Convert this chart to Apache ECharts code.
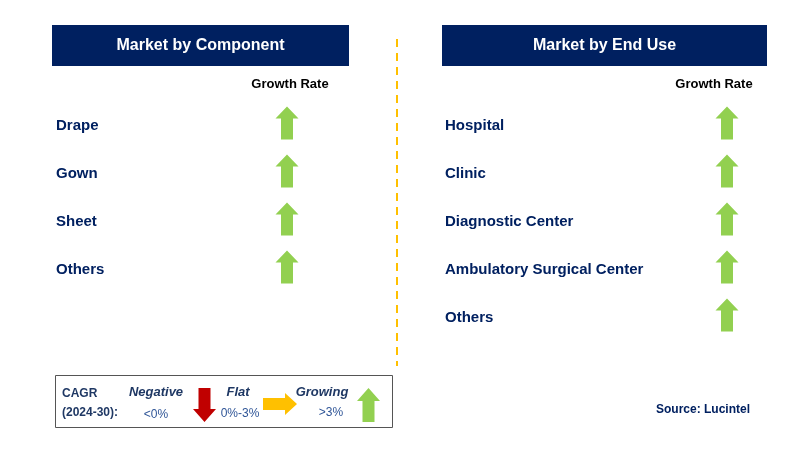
<!DOCTYPE html>
<html><head><meta charset="utf-8">
<script src="https://cdn.jsdelivr.net/npm/echarts@6/dist/echarts.min.js"></script>
<style>html,body{margin:0;padding:0;background:#fff}#c{width:789px;height:451px}</style>
</head><body><div id="c"></div>
<script>
const panelTitles = ['Market by Component', 'Market by End Use'];
const columnLabel = ['Growth Rate'];
const componentCats = ['Drape', 'Gown', 'Sheet', 'Others'];
const componentGrowth = ['Growing', 'Growing', 'Growing', 'Growing'];
const endUseCats = ['Hospital', 'Clinic', 'Diagnostic Center', 'Ambulatory Surgical Center', 'Others'];
const endUseGrowth = ['Growing', 'Growing', 'Growing', 'Growing', 'Growing'];
const legendTitle = ['CAGR', '(2024-30):'];
const legendNames = ['Negative', 'Flat', 'Growing'];
const legendRanges = ['<0%', '0%-3%', '>3%'];
const sourceText = 'Source: Lucintel';

const NAVY = '#002060';
const GREEN = '#92D050', RED = '#C00000', YELLOW = '#FFC000';
const UP = 'path://M11.5,0 L23,12 L17.5,12 L17.5,33 L5.5,33 L5.5,12 L0,12 Z';
const DOWN = 'path://M5.5,0 L17.5,0 L17.5,21 L23,21 L11.5,34 L0,21 L5.5,21 Z';
const RIGHT = 'path://M0,5 L22,5 L22,0 L34,11 L22,22 L22,17 L0,17 Z';
const symbolFor = {Growing: {symbol: UP, color: GREEN}, Negative: {symbol: DOWN, color: RED}, Flat: {symbol: RIGHT, color: YELLOW}};

function points(cats, growth) {
  return cats.map((c, i) => ({
    value: [0, i],
    symbol: symbolFor[growth[i]].symbol,
    itemStyle: {color: symbolFor[growth[i]].color, opacity: 1}
  }));
}

const chart = echarts.init(document.getElementById('c'));
const labelFont = {fontFamily: 'Liberation Sans, Arial, sans-serif', fontWeight: 'bold', fontSize: 15, color: NAVY};

function header(x, w, text) {
  return {type: 'group', children: [
    {type: 'rect', shape: {x: x, y: 25, width: w, height: 41}, style: {fill: NAVY}},
    {type: 'text', x: x + w / 2, y: 45.5, style: {text: text, fill: '#fff', font: 'bold 16px "Liberation Sans", Arial, sans-serif', textAlign: 'center', textVerticalAlign: 'middle'}}
  ]};
}
function gtext(x, y, text, font, fill, align) {
  return {type: 'text', x: x, y: y, style: {text: text, font: font, fill: fill, textAlign: align || 'center', textVerticalAlign: 'middle'}};
}
function poly(x, y, pts, fill) {
  return {type: 'polygon', x: x, y: y, shape: {points: pts}, style: {fill: fill}};
}
const legFont = '"Liberation Sans", Arial, sans-serif';

chart.setOption({
  animation: false,
  backgroundColor: '#fff',
  grid: [
    {left: 263, width: 48, top: 102, height: 192},
    {left: 703, width: 48, top: 102, height: 240}
  ],
  xAxis: [
    {gridIndex: 0, type: 'category', position: 'top', data: columnLabel, axisLine: {show: false}, axisTick: {show: false}, splitLine: {show: false},
     axisLabel: {margin: 11, fontFamily: 'Liberation Sans, Arial', fontWeight: 'bold', fontSize: 13, color: '#000', padding: [0, 0, 0, 6]}},
    {gridIndex: 1, type: 'category', position: 'top', data: columnLabel, axisLine: {show: false}, axisTick: {show: false}, splitLine: {show: false},
     axisLabel: {margin: 11, fontFamily: 'Liberation Sans, Arial', fontWeight: 'bold', fontSize: 13, color: '#000', padding: [0, 26, 0, 0]}}
  ],
  yAxis: [
    {gridIndex: 0, type: 'category', inverse: true, data: componentCats, axisLine: {show: false}, axisTick: {show: false}, splitLine: {show: false},
     axisLabel: Object.assign({align: 'left', margin: 207}, labelFont)},
    {gridIndex: 1, type: 'category', inverse: true, data: endUseCats, axisLine: {show: false}, axisTick: {show: false}, splitLine: {show: false},
     axisLabel: Object.assign({align: 'left', margin: 258}, labelFont)}
  ],
  series: [
    {type: 'scatter', xAxisIndex: 0, yAxisIndex: 0, symbolSize: [23, 33], symbolOffset: [0, -3], data: points(componentCats, componentGrowth), silent: true},
    {type: 'scatter', xAxisIndex: 1, yAxisIndex: 1, symbolSize: [23, 33], symbolOffset: [0, -3], data: points(endUseCats, endUseGrowth), silent: true}
  ],
  graphic: [
    header(52, 297, panelTitles[0]),
    header(442, 325, panelTitles[1]),
    {type: 'line', shape: {x1: 397, y1: 39, x2: 397, y2: 366}, style: {stroke: YELLOW, lineWidth: 2, lineDash: [8, 6]}},
    {type: 'rect', shape: {x: 55.5, y: 375.5, width: 337, height: 52}, style: {fill: 'none', stroke: '#555', lineWidth: 1}},
    gtext(62, 394, legendTitle[0], 'bold 12px ' + legFont, '#1F3864', 'left'),
    gtext(62, 413, legendTitle[1], 'bold 12px ' + legFont, '#1F3864', 'left'),
    gtext(156, 392, legendNames[0], 'italic bold 13px ' + legFont, '#1F3864'),
    gtext(238, 392, legendNames[1], 'italic bold 13px ' + legFont, '#1F3864'),
    gtext(322, 392, legendNames[2], 'italic bold 13px ' + legFont, '#1F3864'),
    gtext(156, 415, legendRanges[0], '12px ' + legFont, '#2F5597'),
    gtext(240, 414, legendRanges[1], '12px ' + legFont, '#2F5597'),
    gtext(331, 413, legendRanges[2], '12px ' + legFont, '#2F5597'),
    poly(193, 388, [[5.5,0],[17.5,0],[17.5,21],[23,21],[11.5,34],[0,21],[5.5,21]], RED),
    poly(263, 393, [[0,5],[22,5],[22,0],[34,11],[22,22],[22,17],[0,17]], YELLOW),
    poly(357, 388, [[11.5,0],[23,13],[17.5,13],[17.5,34],[5.5,34],[5.5,13],[0,13]], GREEN),
    gtext(703, 410, sourceText, 'bold 12px ' + legFont, NAVY)
  ]
});
</script></body></html>
